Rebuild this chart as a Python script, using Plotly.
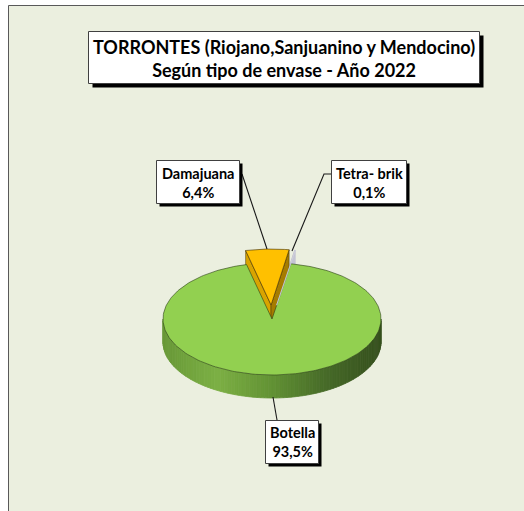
import numpy as np
import plotly.graph_objects as go

# ---------------- data ----------------
labels = ["Botella", "Damajuana", "Tetra- brik"]
values = [93.5, 6.4, 0.1]
pct_text = ["93,5%", "6,4%", "0,1%"]
title_lines = ["TORRONTES (Riojano,Sanjuanino y Mendocino)", "Según tipo de envase - Año 2022"]

# ---------------- style / layout ----------------
W, H = 524, 511
CX, CY, RX, RY, DEPTH = 272, 319, 109, 56, 23
START = 9.9                      # first slice start angle (deg, clockwise from 12 o'clock)
EXPLODE = [0.0, 0.25, 0.25]
TOP_COL = ["#92D050", "#FFC000", "#CFCFDC"]
FACE_L = ["#6E9E3A", "#D9A400", "#B9B9C8"]
FACE_R = ["#4E7A2A", "#A67C00", "#C4C4D4"]
BG = "#EBEFDF"
FONT = "Lato"

# slice angles
tot = sum(values)
angs = []
a = START
for v in values:
    span = v / tot * 360.0
    angs.append((a, a + span))
    a += span


def offs(i):
    a0, a1 = angs[i]
    m = np.radians((a0 + a1) / 2)
    e = EXPLODE[i]
    return e * RX * np.sin(m), -e * RY * np.cos(m)


def P(theta, dx=0.0, dy=0.0, z=0.0, r=1.0):
    t = np.radians(theta)
    return CX + dx + RX * r * np.sin(t), CY + dy - RY * r * np.cos(t) + z


fig = go.Figure()


def poly(xs, ys, fill, line=None, lw=0.6):
    fig.add_trace(go.Scatter(x=list(xs) + [xs[0]], y=list(ys) + [ys[0]], mode="lines",
                             fill="toself", fillcolor=fill,
                             line=dict(color=line if line else fill, width=lw),
                             hoverinfo="skip", showlegend=False))


def lerp_col(stops, f):
    for (f0, c0), (f1, c1) in zip(stops[:-1], stops[1:]):
        if f0 <= f <= f1:
            k = (f - f0) / (f1 - f0) if f1 > f0 else 0
            c = [int(round(c0[j] + (c1[j] - c0[j]) * k)) for j in range(3)]
            return "rgb(%d,%d,%d)" % tuple(c)
    c = stops[-1][1]
    return "rgb(%d,%d,%d)" % tuple(c)


# ---- green side wall (front half), gradient by screen x ----
side_stops = [(0.0, (104, 152, 56)), (0.25, (124, 176, 68)), (0.5, (98, 146, 52)),
              (0.75, (70, 106, 40)), (1.0, (54, 80, 30))]
b0, b1 = angs[0]
lo, hi = max(90.0, b0), min(270.0, b1)
N = 90
edges = np.linspace(hi, lo, N + 1)  # go from left (270) to right (90)
for k in range(N):
    t0, t1 = edges[k], edges[k + 1]
    x0, y0 = P(t0)
    x1, y1 = P(t1)
    fx = ((x0 + x1) / 2 - (CX - RX)) / (2 * RX)
    col = lerp_col(side_stops, fx)
    poly([x0, x1, x1, x0], [y0, y1, y1 + DEPTH, y0 + DEPTH], col, lw=0.8)

# ---- radial side faces of exploded slices (drawn before green top) ----
for i in [2, 1]:
    dx, dy = offs(i)
    a0, a1 = angs[i]
    cx_, cy_ = CX + dx, CY + dy
    for ang, col in [(a0, FACE_L[i]), (a1, FACE_R[i])]:
        ox, oy = P(ang, dx, dy)
        poly([cx_, ox, ox, cx_], [cy_, oy, oy + DEPTH, cy_ + DEPTH], col,
             line="rgba(60,45,0,0.8)" if i == 1 else col, lw=0.6)

# ---- green top face ----
th = np.linspace(b0, b1, 240)
xs = [CX] + [P(t)[0] for t in th]
ys = [CY] + [P(t)[1] for t in th]
poly(xs, ys, TOP_COL[0], line="rgba(40,60,20,0.85)", lw=0.7)

# ---- exploded top faces ----
for i in [2, 1]:
    dx, dy = offs(i)
    a0, a1 = angs[i]
    th = np.linspace(a0, a1, 40)
    xs = [CX + dx] + [P(t, dx, dy)[0] for t in th]
    ys = [CY + dy] + [P(t, dx, dy)[1] for t in th]
    poly(xs, ys, TOP_COL[i], line="rgba(70,50,0,0.9)" if i == 1 else TOP_COL[i], lw=0.7)

# ---------------- shapes: background, boxes, leaders ----------------
shapes = [dict(type="rect", xref="x", yref="y", x0=8.5, y0=5.5, x1=540, y1=530,
               fillcolor=BG, line=dict(color="#595959", width=1), layer="below")]


def box(x0, y0, x1, y1, sh):
    shapes.append(dict(type="rect", xref="x", yref="y", x0=x0 + sh, y0=y0 + sh, x1=x1 + sh, y1=y1 + sh,
                       fillcolor="black", line=dict(width=0), layer="above"))
    shapes.append(dict(type="rect", xref="x", yref="y", x0=x0, y0=y0, x1=x1, y1=y1,
                       fillcolor="white", line=dict(color="#404040", width=1), layer="above"))


def seg(pts):
    path = "M " + " L ".join("%g,%g" % p for p in pts)
    shapes.append(dict(type="path", xref="x", yref="y", path=path,
                       line=dict(color="#1a1a1a", width=1.1), layer="above"))


# leader lines
seg([(242, 174), (267, 249)])
seg([(331, 174), (324, 174), (292, 251)])
seg([(273, 397), (277, 420)])

# boxes
box(88.5, 31.5, 479.5, 83.5, 4)
box(156.5, 160.5, 239.5, 203.5, 3)
box(331.5, 160.5, 406.5, 203.5, 3)
box(265.5, 420.5, 318.5, 463.5, 3)

annotations = [
    dict(x=284, y=58, xref="x", yref="y", showarrow=False,
         text="<b>" + title_lines[0] + "</b><br><b>" + title_lines[1] + "</b>",
         font=dict(family=FONT, size=18, color="black"), align="center"),
]
label_pos = {0: (292, 442), 1: (198, 182.5), 2: (369, 182.5)}
for i, (lx, ly) in label_pos.items():
    annotations.append(dict(x=lx, y=ly, xref="x", yref="y", showarrow=False,
                            text="<b>" + labels[i] + "</b><br><b>" + pct_text[i] + "</b>",
                            font=dict(family=FONT, size=14.5, color="black"), align="center"))

fig.update_layout(
    width=W, height=H, margin=dict(l=0, r=0, t=0, b=0),
    paper_bgcolor="white", plot_bgcolor="white",
    xaxis=dict(range=[0, W], visible=False, fixedrange=True),
    yaxis=dict(range=[H, 0], visible=False, fixedrange=True),
    shapes=shapes, annotations=annotations, showlegend=False,
)
fig.write_html("out.html", config={"displayModeBar": False},
               post_script="document.body.style.margin='0';document.body.style.overflow='hidden';")
